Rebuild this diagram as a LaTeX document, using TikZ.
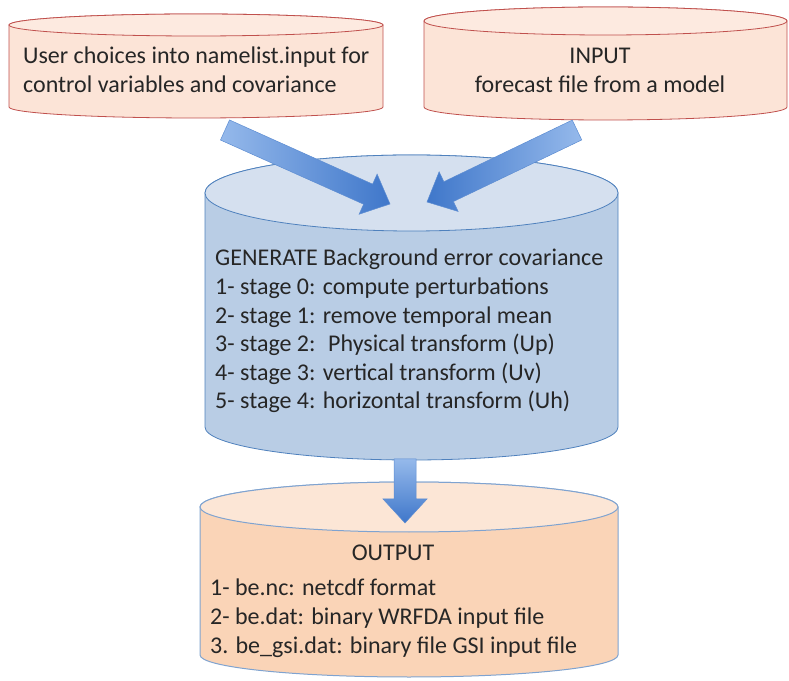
\documentclass[tikz,border=0pt]{standalone}
\usepackage{fontspec}
\setmainfont{Carlito}
\usetikzlibrary{calc}

\definecolor{peachbody}{HTML}{FCE4D7}
\definecolor{peachtop}{HTML}{FDEAE0}
\definecolor{redline}{HTML}{C0504D}
\definecolor{steelbody}{HTML}{B9CDE5}
\definecolor{steeltop}{HTML}{D5E0EF}
\definecolor{blueline}{HTML}{4F81BD}
\definecolor{orangebody}{HTML}{FAD4B7}
\definecolor{orangetop}{HTML}{FCE6D6}
\definecolor{outline}{HTML}{7FA3D0}
\definecolor{arrowlight}{HTML}{95B9EB}
\definecolor{arrowdark}{HTML}{3F77CA}
\definecolor{arrowedge}{HTML}{5D8DD2}

\tikzset{
  inbody/.style={fill=peachbody, draw=redline, line width=0.8pt},
  intop/.style={fill=peachtop, draw=redline, line width=0.8pt},
  genbody/.style={fill=steelbody, draw=blueline, line width=0.8pt},
  gentop/.style={fill=steeltop, draw=blueline, line width=0.8pt},
  outbody/.style={fill=orangebody, draw=outline, line width=1pt},
  outtop/.style={fill=orangetop, draw=outline, line width=1pt},
  txt/.style={inner sep=0pt, font=\fontsize{24}{28.6}\selectfont, text=black!85},
  fat/.style={draw=arrowedge, line width=0.5pt},
}

% cylinder: cx, rx, y top, ry top, y bottom, ry bottom, body style, top style
\newcommand{\drum}[8]{%
  \filldraw[#7] ({#1-#2},#3) -- ({#1-#2},#5)
    arc[start angle=180, end angle=360, x radius=#2, y radius=#6]
    -- ({#1+#2},#3)
    arc[start angle=0, end angle=180, x radius=#2, y radius=#4] -- cycle;
  \filldraw[#8] (#1,#3) ellipse[x radius=#2, y radius=#4];
}

% block arrow: tail, tip, style
\newcommand{\fatarrow}[3]{%
  \coordinate (#1#2) at ($(#2)!24pt!(#1)$);
  \shadedraw[#3] ($(#1)!11pt!90:(#2)$) -- ($(#1#2)!11pt!-90:(#1)$)
    -- ($(#1#2)!22pt!-90:(#1)$) -- (#2) -- ($(#1#2)!22pt!90:(#1)$)
    -- ($(#1#2)!11pt!90:(#1)$) -- ($(#1)!11pt!-90:(#2)$) -- cycle;
}

\begin{document}
\begin{tikzpicture}[x=1pt, y=1pt]
	\useasboundingbox (0,0) rectangle (789,680);

	% Cylinders
	\drum{196}{187}{655}{11}{573}{11}{inbody}{intop}
	\drum{605.5}{181.5}{659}{14}{573}{13}{inbody}{intop}
	\drum{411.5}{206.5}{487}{38}{253}{33}{genbody}{gentop}
	\drum{409}{209}{173}{25}{25}{22}{outbody}{outtop}

	% Texts
	\node[txt, anchor=north west, align=left] (choices) at (23,633)
		{User choices into namelist.input for\\control variables and covariance};
	\node[txt, anchor=north, align=center] (input) at (600,632)
		{INPUT\\forecast file from a model};
	\node[txt, anchor=north west, align=left] (generate) at (215,431)
		{GENERATE Background error covariance\\
		 1- stage 0: compute perturbations\\
		 2- stage 1: remove temporal mean\\
		 3- stage 2:~ Physical transform (Up)\\
		 4- stage 3: vertical transform (Uv)\\
		 5- stage 4: horizontal transform (Uh)};
	\node[txt, anchor=base] (outtitle) at (393,120) {OUTPUT};
	\node[txt, anchor=north west, align=left] (outlist) at (210,101)
		{1- be.nc: netcdf format\\
		 2- be.dat: binary WRFDA input file\\
		 3. be\_gsi.dat: binary file GSI input file};

	% Arrows
	\coordinate (ltail) at (225,550);
	\coordinate (ltip) at (390,476);
	\coordinate (rtail) at (577,550);
	\coordinate (rtip) at (427,478);
	\coordinate (dtail) at (405,221);
	\coordinate (dtip) at (405,157);
	\fatarrow{ltail}{ltip}{fat, left color=arrowlight, right color=arrowdark}
	\fatarrow{rtail}{rtip}{fat, right color=arrowlight, left color=arrowdark}
	\fatarrow{dtail}{dtip}{fat, top color=arrowlight, bottom color=arrowdark}
\end{tikzpicture}
\end{document}
